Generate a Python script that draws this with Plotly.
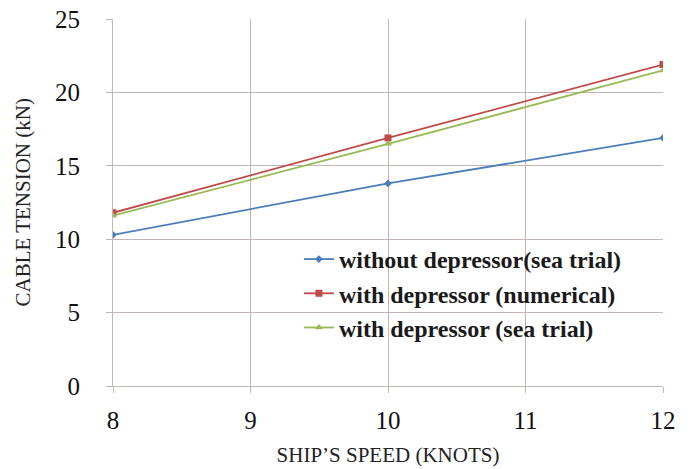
import plotly.graph_objects as go

speed = [8, 10, 12]
without_sea = [10.3, 13.8, 16.9]
with_num = [11.8, 16.9, 21.9]
with_sea = [11.6, 16.5, 21.5]

names = ["without depressor(sea trial)", "with depressor (numerical)", "with depressor (sea trial)"]
colors = ["#4a7ebb", "#be4b48", "#98b954"]
symbols = ["diamond", "square", "triangle-up"]
sizes = [6, 7, 7]

SERIF = "Times New Roman, Liberation Serif, serif"

fig = go.Figure()
for y, n, c, s, sz in zip([without_sea, with_num, with_sea], names, colors, symbols, sizes):
    fig.add_trace(go.Scatter(x=speed, y=y, name=n, mode="lines+markers",
                             line=dict(color=c, width=1.8),
                             marker=dict(symbol=s, size=sz, color=c)))

grid = "#c4b4b4"
fig.update_layout(
    width=691, height=469,
    margin=dict(l=113, r=28, t=19, b=83),
    plot_bgcolor="white", paper_bgcolor="white",
    font=dict(family=SERIF, color="#222222"),
    showlegend=True,
    legend=dict(x=0.338, y=0.406, xanchor="left", yanchor="top",
                bgcolor="rgba(255,255,255,0)",
                font=dict(size=24, family=SERIF, color="#1a1a1a", weight="bold"),
                tracegroupgap=0, itemwidth=30),
    xaxis=dict(range=[8, 12], dtick=1, showgrid=True, gridcolor=grid, gridwidth=1, automargin=False,
               showline=True, linecolor=grid, linewidth=1, ticks="outside", ticklen=6, tickcolor=grid,
               tickfont=dict(size=25, family=SERIF, color="#111"), ticklabelstandoff=6,
               ticklabeloverflow="allow",
               title=dict(text="SHIP’S SPEED (KNOTS)", font=dict(size=21, family=SERIF, color="#222"), standoff=14),
               zeroline=False, mirror=False),
    yaxis=dict(range=[0, 25], dtick=5, showgrid=True, gridcolor=grid, gridwidth=1, automargin=False,
               showline=True, linecolor=grid, linewidth=1, ticks="outside", ticklen=6, tickcolor=grid,
               tickfont=dict(size=25, family=SERIF, color="#111"), ticklabelstandoff=21,
               ticklabeloverflow="allow",
               zeroline=False),
    annotations=[dict(text="CABLE TENSION (kN)", xref="paper", yref="paper", x=0, y=0.5,
                      xanchor="center", yanchor="middle", xshift=-91, textangle=-90, showarrow=False,
                      font=dict(size=21, family=SERIF, color="#222"))],
)
fig.write_html("out.html", config={"displayModeBar": False},
               post_script="document.body.style.margin='0';")
